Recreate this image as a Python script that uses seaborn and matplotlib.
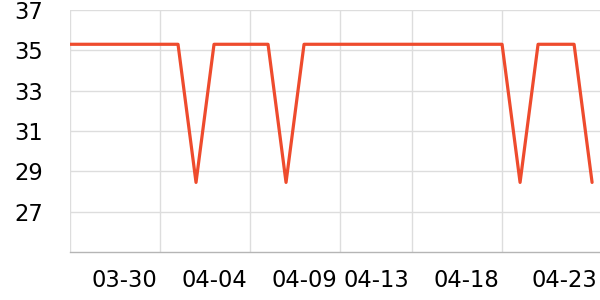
import matplotlib
matplotlib.use("Agg")
import matplotlib.pyplot as plt
import matplotlib.transforms as mtransforms
import seaborn as sns
import pandas as pd
import numpy as np

dates = ["03-27", "03-28", "03-29", "03-30", "03-31",
         "04-01", "04-02", "04-03", "04-04", "04-05", "04-06", "04-07", "04-08", "04-09", "04-10",
         "04-11", "04-12", "04-13", "04-14", "04-15", "04-16", "04-17", "04-18", "04-19", "04-20",
         "04-21", "04-22", "04-23", "04-24", "04-25"]
values = [35.3, 35.3, 35.3, 35.3, 35.3, 35.3, 35.3, 28.45, 35.3, 35.3,
          35.3, 35.3, 28.45, 35.3, 35.3, 35.3, 35.3, 35.3, 35.3, 35.3,
          35.3, 35.3, 35.3, 35.3, 35.3, 28.45, 35.3, 35.3, 35.3, 28.45]
label_dates = ["03-30", "04-04", "04-09", "04-13", "04-18", "04-23"]
grid_dates = ["03-27", "04-01", "04-06", "04-11", "04-15", "04-20"]
y_ticks = [27, 29, 31, 33, 35, 37]

df = pd.DataFrame({"idx": np.arange(len(dates)), "date": dates, "value": values})

sns.set_theme(style="white")
fig = plt.figure(figsize=(6, 3), dpi=100)
ax = fig.add_axes([70/600, 1 - 252/300, 530/600, 242/300])

sns.lineplot(data=df, x="idx", y="value", ax=ax, color="#EE4B2D", linewidth=2.3)

ax.set_xlim(0, 29.44)
ax.set_ylim(25, 37)

pos = {d: i for i, d in enumerate(dates)}
ax.set_xticks([pos[d] for d in grid_dates])
ax.set_xticklabels([])
ax.set_xticks([pos[d] for d in label_dates], minor=True)
ax.set_xticklabels(label_dates, minor=True)
ax.tick_params(axis="x", which="major", length=4, width=1, color="#bbbbbb", direction="out")
ax.tick_params(axis="x", which="minor", length=0, pad=12, labelsize=16.3, labelcolor="#000000")

# last label sits slightly to the right in the reference
last = ax.get_xticklabels(minor=True)[-1]
last.set_transform(last.get_transform() + mtransforms.ScaledTranslation(8/100, 0, fig.dpi_scale_trans))

ax.set_yticks(y_ticks)
ax.set_yticklabels([str(v) for v in y_ticks])
ax.tick_params(axis="y", length=2, width=1, color="#dddddd", pad=17.5, labelsize=16.3, labelcolor="#000000")

ax.grid(True, which="major", color="#dddddd", linewidth=1)
ax.set_axisbelow(True)

for s in ["top", "right", "left"]:
    ax.spines[s].set_visible(False)
ax.spines["bottom"].set_color("#b5b5b5")
ax.spines["bottom"].set_linewidth(1)
ax.set_xlabel("")
ax.set_ylabel("")

fig.savefig("out.png", dpi=100)
